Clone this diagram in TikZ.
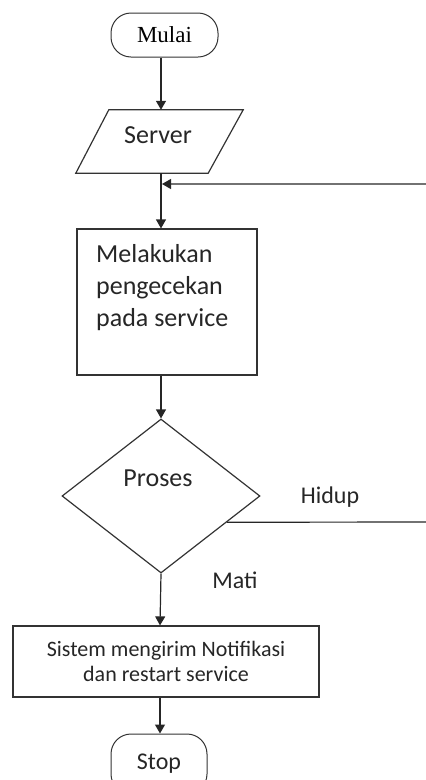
\documentclass[tikz,border=0pt]{standalone}
\usepackage{fontspec}
\setmainfont{Carlito}
\newfontfamily\timesfont{Liberation Serif}
\usetikzlibrary{shapes.geometric,arrows.meta,calc}
\begin{document}
\begin{tikzpicture}[x=1pt,y=-1pt,
  line/.style={draw=black!85, line width=1.2pt},
  arr/.style={line, -{Triangle[length=9pt,width=10pt]}},
  term/.style={draw=black!80, line width=1pt, rounded corners=20pt, inner sep=0pt},
  proc/.style={draw=black!80, line width=1.2pt, inner sep=0pt},
  lbl/.style={inner sep=0pt, text=black!85}
]
\useasboundingbox (0,0) rectangle (426,780);
\clip (0,0) rectangle (426,780);
\coordinate (spine) at (161,0);
\coordinate (spine2) at (160,0);
% Start
\node[term, minimum width=107pt, minimum height=44pt, font=\timesfont\fontsize{23}{27}\selectfont] (mulai) at (164.5,35) {Mulai};
% Server (parallelogram)
\node[inner sep=0pt, minimum width=167pt, minimum height=63pt] (srv) at (159.5,141.5) {};
\draw[proc] (srv.south west) -- ($(srv.south east)+(-35,0)$) -- (srv.north east) -- ($(srv.north west)+(33,0)$) -- cycle;
\node[lbl, font=\fontsize{26}{30}\selectfont] (srvtxt) at (158,135) {Server};
% Check box
\node[proc, minimum width=180pt, minimum height=146pt] (cek) at (167,302) {};
\node[lbl, anchor=north west, align=left, font=\fontsize{26}{32}\selectfont] (cektxt) at (96,244) {Melakukan\\pengecekan\\pada service};
% Decision
\node[draw=black!80, line width=1.2pt, diamond, minimum width=198pt, minimum height=154pt, inner sep=0pt] (dia) at (161,496) {};
\node[lbl, font=\fontsize{26}{30}\selectfont] (proses) at (158,478) {Proses};
\node[lbl, font=\fontsize{24}{28}\selectfont] (hidup) at (330,497) {Hidup};
\node[lbl, font=\fontsize{24}{28}\selectfont] (mati) at (235,580) {Mati};
% Notification box
\node[proc, minimum width=306pt, minimum height=71pt, align=center, font=\fontsize{22}{25}\selectfont, text=black!85] (notif) at (166,661.5) {Sistem mengirim Notifikasi\\dan restart service};
% Stop
\node[term, minimum width=96pt, minimum height=60pt, font=\fontsize{24}{28}\selectfont, text=black!85] (stop) at (159,764) {Stop};
% Connectors
\coordinate (join) at (162,184);
\coordinate (farA) at (445,522);
\coordinate (farB) at (445,184);
\draw[arr] (mulai.south -| spine) -- (srv.north -| spine);
\draw[arr] (srv.south -| spine) -- (cek.north -| spine);
\draw[arr] ($(dia.east)!0.338!(dia.south)$) -- (farA) -- (farB) -- (join);
\draw[arr] (cek.south -| spine) -- (dia.north);
\draw[arr] (dia.south) -- (notif.north -| spine2);
\draw[arr] (notif.south -| spine2) -- (stop.north -| spine2);
\end{tikzpicture}
\end{document}
